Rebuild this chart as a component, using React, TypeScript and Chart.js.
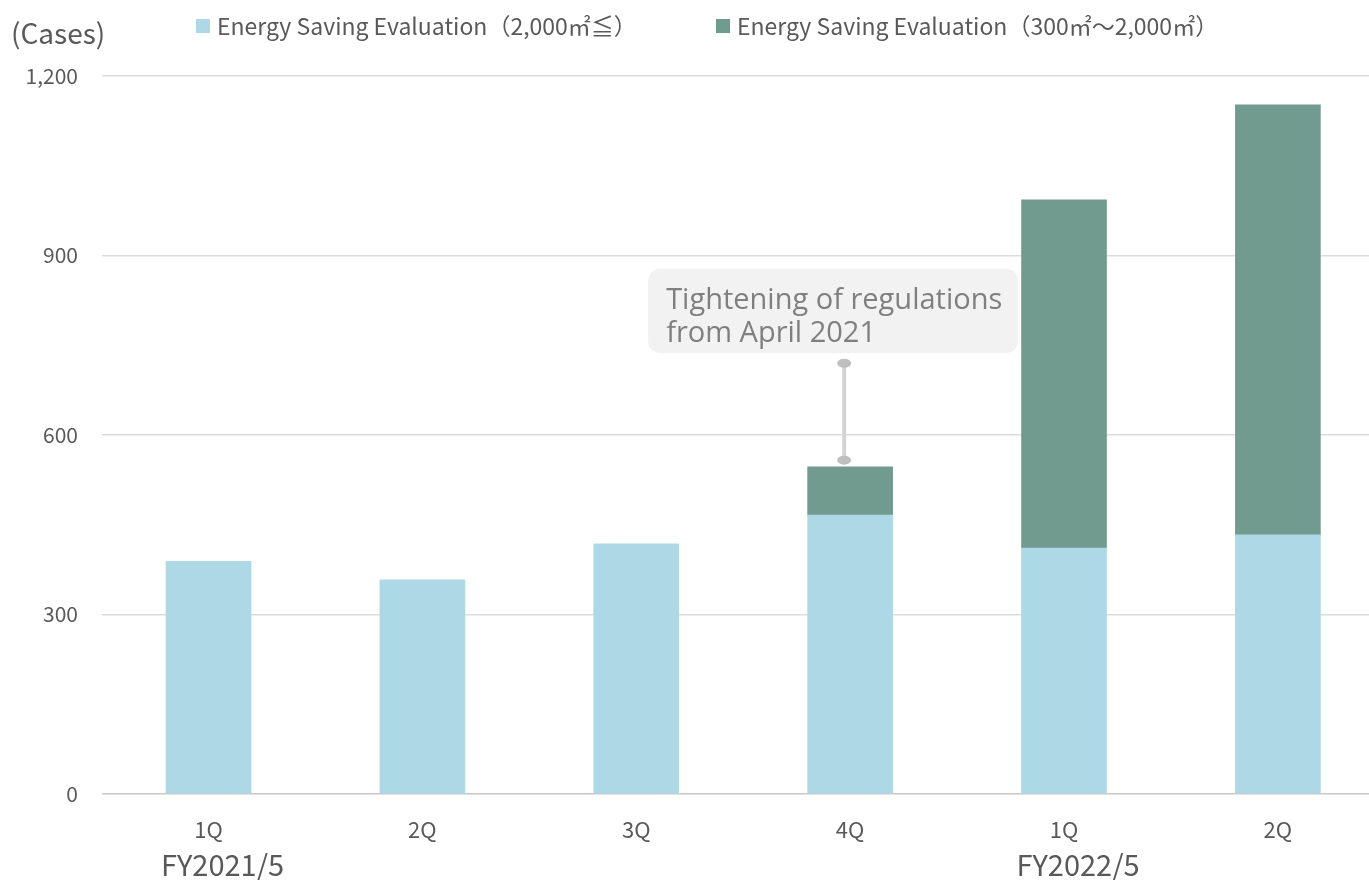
import React, { useEffect, useRef } from "react";
import { Chart, registerables } from "chart.js";

Chart.register(...registerables);

const categories = ["1Q", "2Q", "3Q", "4Q", "1Q", "2Q"];
const fiscalYearIndex = [0, 4];
const fiscalYearLabels = ["FY2021/5", "FY2022/5"];
const seriesNames = [
  "Energy Saving Evaluation（2,000㎡≦）",
  "Energy Saving Evaluation（300㎡～2,000㎡）",
];
const seriesColors = ["#add8e6", "#729b8f"];
const over2000 = [389, 358, 418, 466, 411, 433];
const from300to2000 = [null, null, null, 81, 582, 719];
const yTicks = [0, 300, 600, 900, 1200];
const annotationIndex = 3;
const annotationLines = ["Tightening of regulations", "from April 2021"];

const FONT = "'Noto Sans CJK JP', 'Noto Sans', sans-serif";
const TEXT = "#595959";
const legendX = [196, 716];

const extrasPlugin = {
  id: "extras",
  afterDraw(chart: any) {
    const { ctx, scales } = chart;
    const x = scales.x;
    const y = scales.y;
    ctx.save();
    // unit label
    ctx.fillStyle = TEXT;
    ctx.font = `28px ${FONT}`;
    ctx.textAlign = "left";
    ctx.textBaseline = "middle";
    ctx.fillText("(Cases)", 11, 33);
    // legend
    ctx.font = `23px ${FONT}`;
    chart.data.datasets.forEach((ds: any, i: number) => {
      ctx.fillStyle = ds.backgroundColor;
      ctx.fillRect(legendX[i], 19, 14, 14);
      ctx.fillStyle = TEXT;
      ctx.fillText(ds.label, legendX[i] + 21, 26);
    });
    // fiscal year labels
    ctx.font = `29px ${FONT}`;
    ctx.textAlign = "center";
    fiscalYearIndex.forEach((idx, i) => {
      ctx.fillText(fiscalYearLabels[i], x.getPixelForValue(idx) + 14, 865);
    });
    // annotation
    const cx = x.getPixelForValue(annotationIndex);
    const lx = cx - 6;
    const top = y.getPixelForValue(878);
    const bottom = y.getPixelForValue(737);
    const left = cx - 202;
    const w = 370;
    ctx.fillStyle = "#f2f2f2";
    ctx.beginPath();
    (ctx as any).roundRect(left, top, w, bottom - top, 12);
    ctx.fill();
    ctx.fillStyle = "#7f7f7f";
    ctx.font = `29px 'Open Sans', ${FONT}`;
    ctx.textAlign = "left";
    ctx.textBaseline = "middle";
    ctx.fillText(annotationLines[0], left + 18, top + 32);
    ctx.fillText(annotationLines[1], left + 18, top + 65);
    const lt = y.getPixelForValue(720);
    const lb = y.getPixelForValue(558);
    ctx.strokeStyle = "#d3d3d3";
    ctx.lineWidth = 4;
    ctx.beginPath();
    ctx.moveTo(lx, lt);
    ctx.lineTo(lx, lb);
    ctx.stroke();
    ctx.fillStyle = "#bfbfbf";
    [lt, lb].forEach((py) => {
      ctx.beginPath();
      ctx.ellipse(lx, py, 7, 4.5, 0, 0, Math.PI * 2);
      ctx.fill();
    });
    ctx.restore();
  },
};

export default function App() {
  const ref = useRef<HTMLCanvasElement>(null);
  useEffect(() => {
    document.body.style.margin = "0";
    const chart = new Chart(ref.current!, {
      type: "bar",
      data: {
        datasets: [
          {
            label: seriesNames[0],
            data: over2000.map((v, i) => ({ x: i, y: v })) as any,
            backgroundColor: seriesColors[0],
            barThickness: 85,
          },
          {
            label: seriesNames[1],
            data: from300to2000.map((v, i) => ({ x: i, y: v })) as any,
            backgroundColor: seriesColors[1],
            barThickness: 85,
          },
        ],
      },
      options: {
        responsive: false,
        animation: false,
        layout: { padding: { top: 76, right: 0, left: 0, bottom: 0 } },
        plugins: {
          legend: { display: false },
          tooltip: { enabled: false },
        },
        scales: {
          x: {
            type: "linear",
            stacked: true,
            offset: false,
            min: -0.498,
            max: 5.426,
            grid: { display: false },
            border: { display: false },
            afterBuildTicks: (scale: any) => {
              scale.ticks = categories.map((_, i) => ({ value: i }));
            },
            afterFit: (scale: any) => {
              scale.height = 86;
            },
            ticks: {
              callback: (v: any) => categories[v as number] ?? "",
              font: { family: FONT, size: 22 },
              color: TEXT,
              padding: 14,
              maxRotation: 0,
              autoSkip: false,
            },
          },
          y: {
            stacked: true,
            min: 0,
            max: 1200,
            afterBuildTicks: (scale: any) => {
              scale.ticks = yTicks.map((v) => ({ value: v }));
            },
            afterFit: (scale: any) => {
              scale.width = 102;
            },
            grid: {
              color: (c: any) => (c.tick && c.tick.value === 0 ? "#c8c8c8" : "#dcdcdc"),
              lineWidth: 1.5,
              drawTicks: false,
            },
            border: { display: false },
            ticks: {
              callback: (v: any) => Number(v).toLocaleString("en-US"),
              font: { family: FONT, size: 21 },
              color: TEXT,
              padding: 24,
            },
          },
        },
      },
      plugins: [extrasPlugin],
    });
    return () => chart.destroy();
  }, []);
  return <canvas ref={ref} width={1369} height={880} style={{ display: "block" }} />;
}
